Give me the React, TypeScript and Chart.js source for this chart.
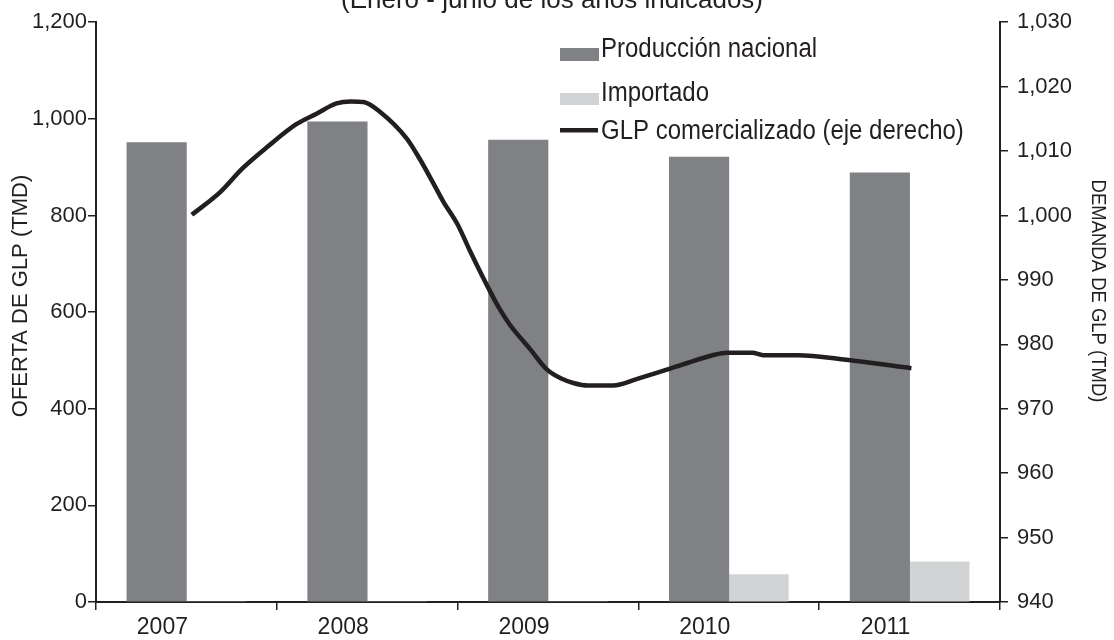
import React, { useEffect, useRef } from "react";
import { Chart, registerables } from "chart.js";

Chart.register(...registerables);

// ---------- data ----------
const years = ["2007", "2008", "2009", "2010", "2011"];
const produccionNacional = [951, 994, 956, 921, 888];
const importado = [0, 0, 0, 57, 83];

// GLP comercializado (right axis), position along the year axis (0 = 2007 ... 4 = 2011)
const glpPos = [
  0.03, 0.19, 0.31, 0.45, 0.61, 0.72, 0.83, 0.91, 0.98, 1.07, 1.22, 1.29, 1.36, 1.42, 1.5, 1.57,
  1.66, 1.73, 1.79, 1.9, 1.99, 2.08, 2.14, 2.22, 2.36, 2.49, 2.64, 2.77, 2.91, 2.99, 3.13, 3.19,
  3.38, 3.65, 4.01,
];
const glpValues = [
  1000.1, 1003.7, 1007.3, 1010.7, 1014.2, 1015.8, 1017.4, 1017.7, 1017.6, 1016.1, 1011.9, 1008.8,
  1005.3, 1002.2, 998.6, 994.4, 989.3, 985.6, 983.0, 979.3, 976.2, 974.6, 974.0, 973.6, 973.6,
  974.6, 975.9, 977.1, 978.3, 978.7, 978.7, 978.3, 978.3, 977.6, 976.3,
];

const leftMin = 0;
const leftMax = 1200;
const leftStep = 200;
const rightMin = 940;
const rightMax = 1030;
const rightStep = 10;

const titleText = "(Enero - junio de los años indicados)";
const leftTitle = "OFERTA DE GLP (TMD)";
const rightTitle = "DEMANDA DE GLP (TMD)";
const seriesNames = ["Producción nacional", "Importado", "GLP comercializado (eje derecho)"];

// ---------- style ----------
const FONT = '"Liberation Sans", Arial, Helvetica, sans-serif';
const TEXT = "#231f20";
const DARK = "#808184";
const LIGHT = "#d1d3d4";
const LINE = "#231f20";

const fmt = (v: number | string) => Number(v).toLocaleString("en-US");

const textPlugin = {
  id: "customText",
  afterDraw(chart: any) {
    const ctx = chart.ctx as CanvasRenderingContext2D;
    ctx.save();
    ctx.fillStyle = TEXT;

    // Title (top partly cut off, as in the reference)
    ctx.font = `26px ${FONT}`;
    ctx.textAlign = "center";
    ctx.textBaseline = "alphabetic";
    ctx.fillText(titleText, 552, 8);

    // Axis titles
    ctx.font = `22px ${FONT}`;
    ctx.textBaseline = "middle";
    ctx.save();
    ctx.translate(21, 296);
    ctx.rotate(-Math.PI / 2);
    ctx.fillText(leftTitle, 0, 0);
    ctx.restore();

    ctx.font = `21px ${FONT}`;
    ctx.save();
    ctx.translate(1098, 291);
    ctx.rotate(Math.PI / 2);
    ctx.scale(0.88, 1);
    ctx.fillText(rightTitle, 0, 0);
    ctx.restore();

    // Legend
    const lx = 560;
    const tx = 601;
    ctx.fillStyle = DARK;
    ctx.fillRect(lx, 48, 39, 13);
    ctx.fillStyle = LIGHT;
    ctx.fillRect(lx, 93, 39, 12);
    ctx.fillStyle = LINE;
    ctx.fillRect(lx, 128, 38, 4.5);

    ctx.fillStyle = TEXT;
    ctx.font = `24px ${FONT}`;
    ctx.textAlign = "left";
    ctx.textBaseline = "alphabetic";
    const baselines = [57, 101, 139];
    seriesNames.forEach((name, i) => {
      ctx.save();
      ctx.translate(tx, baselines[i]);
      ctx.scale(1, 1.15);
      ctx.fillText(name, 0, 0);
      ctx.restore();
    });
    ctx.restore();
  },
};

export default function App() {
  const ref = useRef<HTMLCanvasElement | null>(null);

  useEffect(() => {
    if (!ref.current) return;
    const chart = new Chart(ref.current, {
      type: "bar",
      data: {
        labels: years,
        datasets: [
          {
            type: "line",
            label: seriesNames[2],
            data: glpPos.map((x, i) => ({ x, y: glpValues[i] })),
            xAxisID: "xl",
            yAxisID: "y1",
            borderColor: LINE,
            borderWidth: 4.5,
            pointRadius: 0,
            cubicInterpolationMode: "monotone",
            fill: false,
            order: 0,
          } as any,
          {
            label: seriesNames[0],
            data: produccionNacional,
            backgroundColor: DARK,
            borderWidth: 0,
            xAxisID: "x",
            yAxisID: "y",
            barThickness: 59.5,
            order: 1,
          },
          {
            label: seriesNames[1],
            data: importado,
            backgroundColor: LIGHT,
            borderWidth: 0,
            xAxisID: "x",
            yAxisID: "y",
            barThickness: 59.5,
            order: 1,
          },
        ],
      },
      options: {
        animation: false,
        responsive: true,
        maintainAspectRatio: false,
        layout: { padding: { top: 20, left: 0, right: 0, bottom: 0 } },
        plugins: {
          legend: { display: false },
          title: { display: false },
          tooltip: { enabled: false },
        },
        scales: {
          x: {
            type: "category",
            offset: true,
            afterFit: (s: any) => {
              s.height = 38;
            },
            grid: {
              display: true,
              offset: true,
              drawOnChartArea: false,
              drawTicks: true,
              tickLength: 8,
              color: TEXT,
              lineWidth: 1.5,
            },
            border: { display: true, color: TEXT, width: 2 },
            ticks: {
              color: TEXT,
              font: { family: FONT, size: 23 },
              padding: 4,
              labelOffset: -24,
              maxRotation: 0,
            },
          },
          xl: {
            type: "linear",
            display: false,
            offset: false,
            grid: { offset: false },
            min: -0.5,
            max: 4.5,
          },
          y: {
            type: "linear",
            position: "left",
            min: leftMin,
            max: leftMax,
            afterFit: (s: any) => {
              s.width = 96;
            },
            grid: {
              display: true,
              drawOnChartArea: false,
              drawTicks: true,
              tickLength: 8,
              color: TEXT,
              lineWidth: 1.5,
            },
            border: { display: true, color: TEXT, width: 2 },
            ticks: {
              stepSize: leftStep,
              color: TEXT,
              font: { family: FONT, size: 22 },
              padding: 1,
              callback: (v: any) => fmt(v),
            },
          },
          y1: {
            type: "linear",
            position: "right",
            min: rightMin,
            max: rightMax,
            afterFit: (s: any) => {
              s.width = 114;
            },
            grid: {
              display: true,
              drawOnChartArea: false,
              drawTicks: true,
              tickLength: 8,
              color: TEXT,
              lineWidth: 1.5,
            },
            border: { display: true, color: TEXT, width: 2 },
            ticks: {
              stepSize: rightStep,
              color: TEXT,
              font: { family: FONT, size: 22 },
              padding: 9,
              callback: (v: any) => fmt(v),
            },
          },
        },
      },
      plugins: [textPlugin],
    } as any);
    return () => chart.destroy();
  }, []);

  return (
    <div style={{ position: "fixed", left: 0, top: 0, width: 1114, height: 640, background: "#fff" }}>
      <canvas ref={ref} />
    </div>
  );
}
